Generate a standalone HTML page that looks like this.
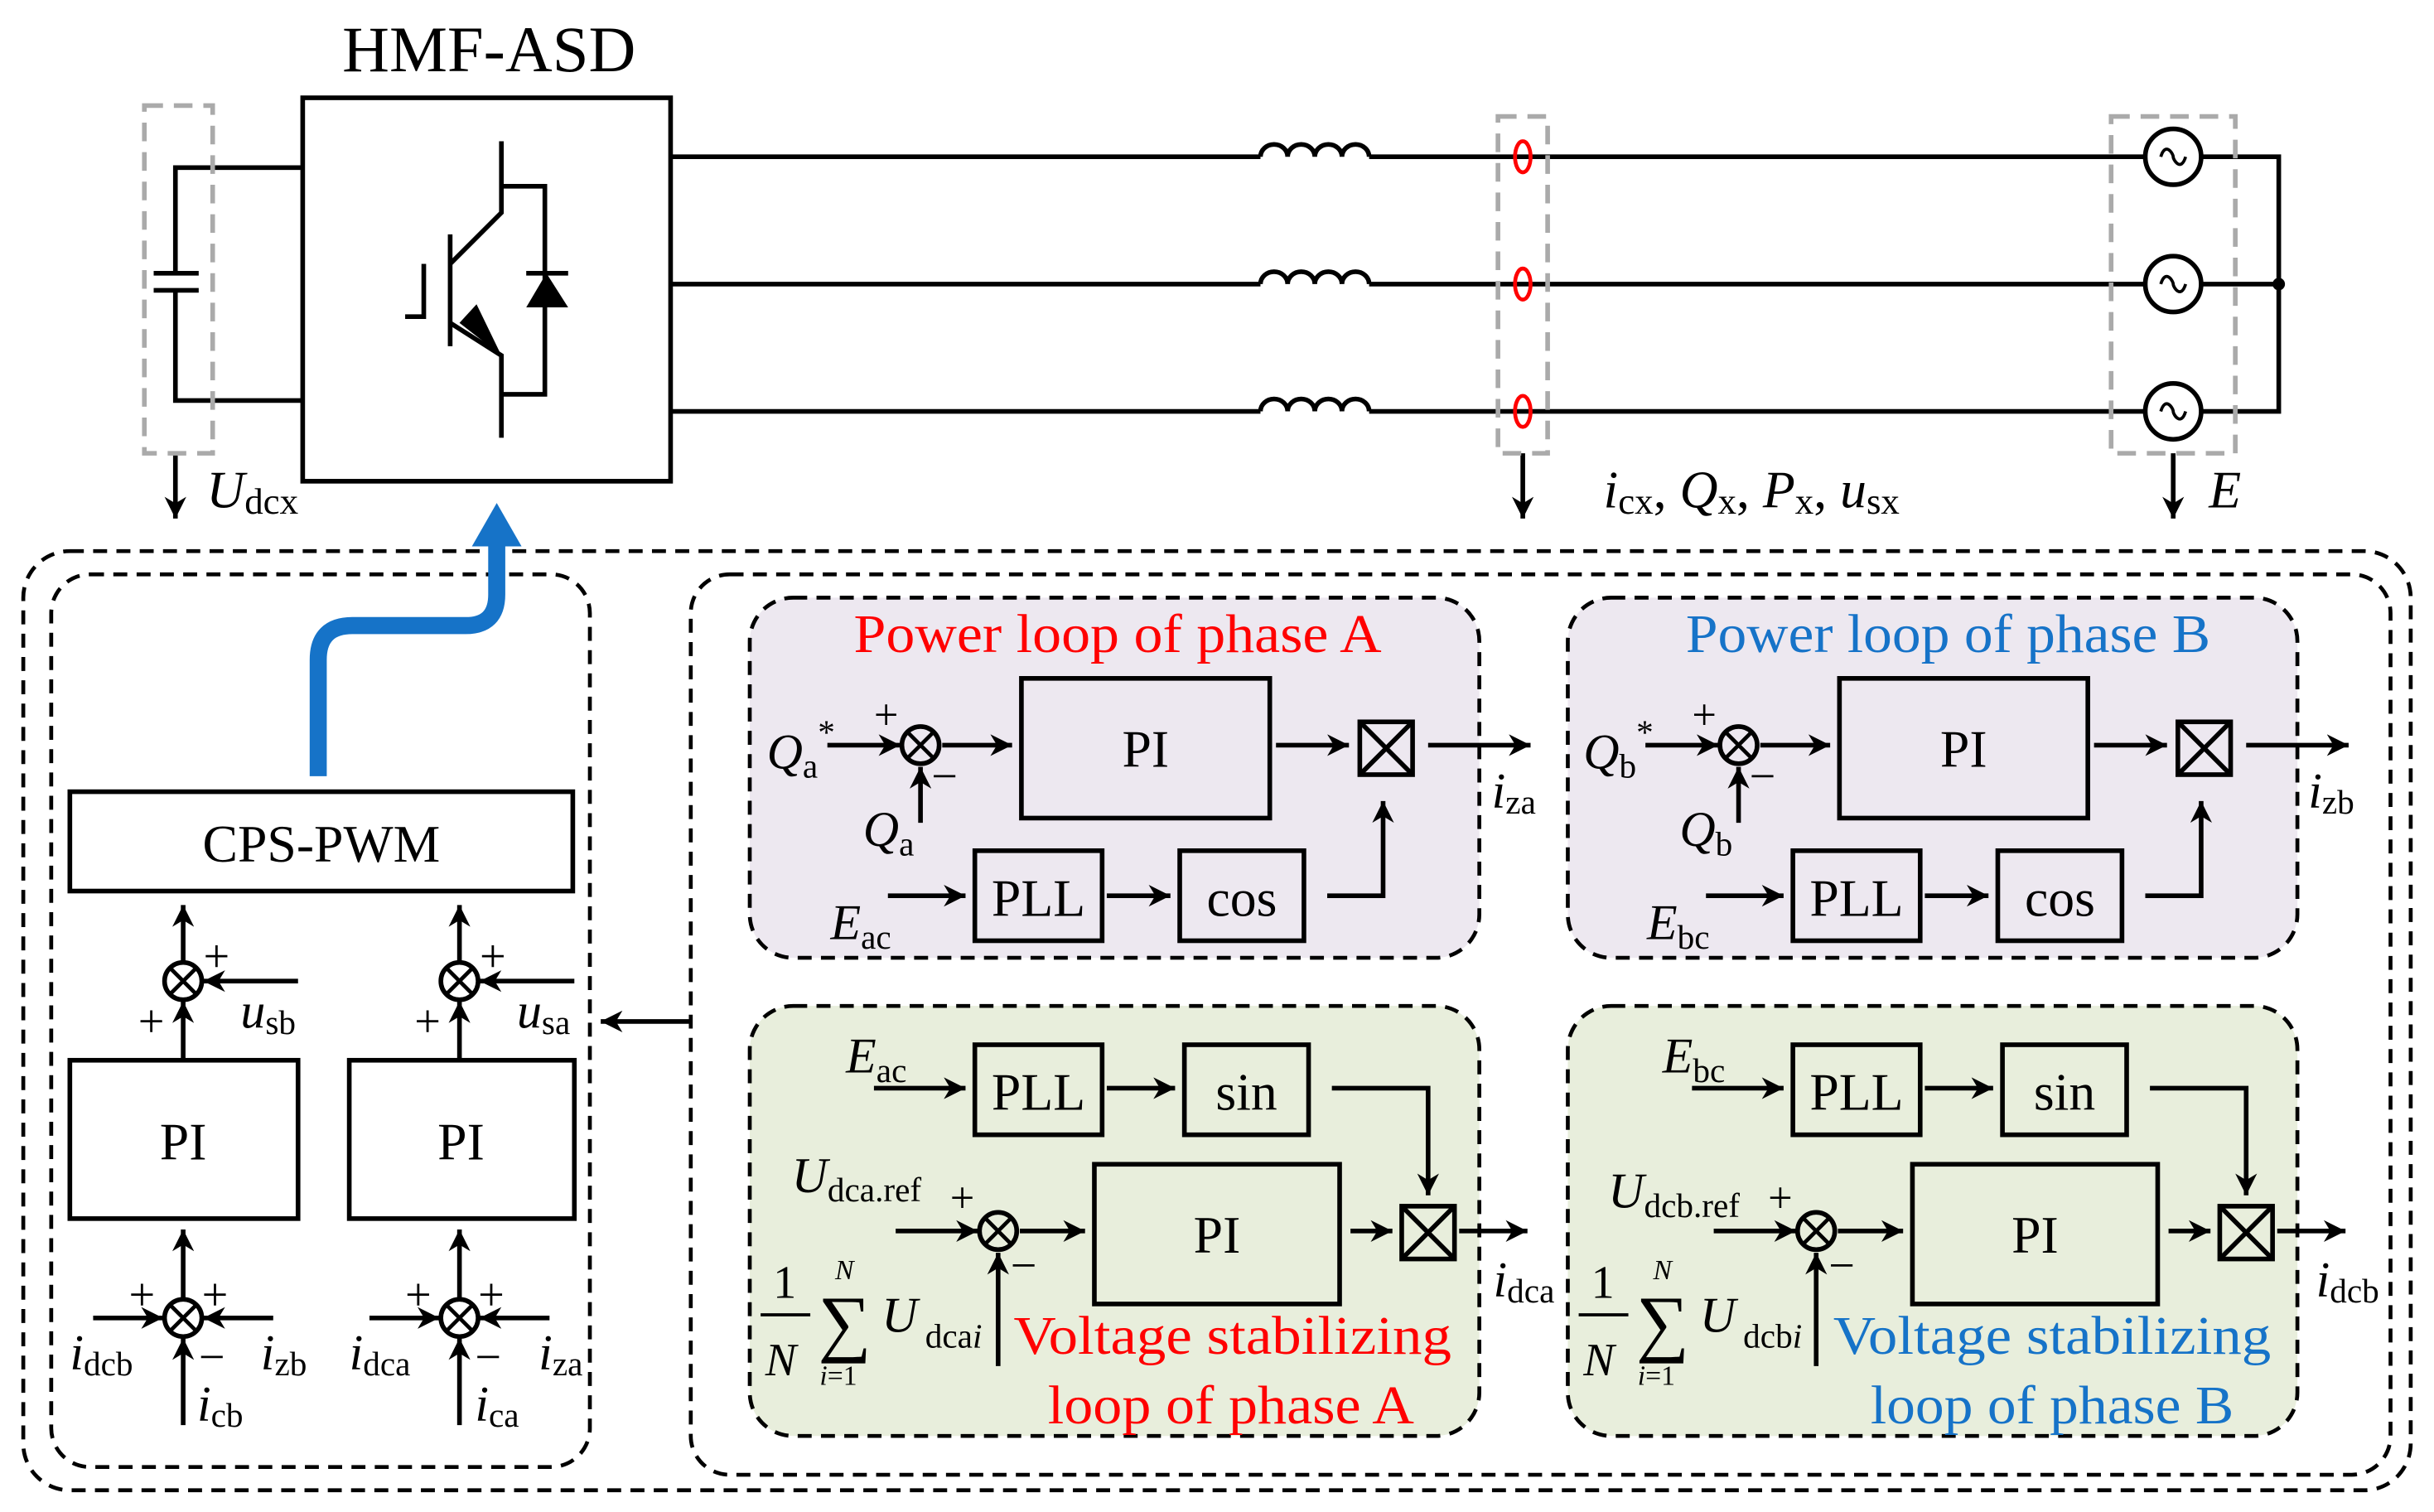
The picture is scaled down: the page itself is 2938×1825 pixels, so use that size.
<!DOCTYPE html>
<html><head><meta charset="utf-8"><style>html,body{margin:0;padding:0;background:#fff}svg{display:block}text{font-family:"Liberation Serif",serif}</style></head><body>
<svg width="2938" height="1825" viewBox="0 0 1568 974" xmlns="http://www.w3.org/2000/svg">
<defs>
<marker id="a" viewBox="0 0 10 10" refX="10" refY="5" markerWidth="16" markerHeight="14" orient="auto" markerUnits="userSpaceOnUse"><path d="M0,0 L10,5 L0,10 L3,5 z" fill="#000"/></marker>
</defs>
<g fill="none" stroke="#000" stroke-width="3">
<rect x="195" y="63" width="237" height="247"/>
<path d="M195,108 H113 V176 M99,176 H128 M99,187 H128 M113,187 V258 H195"/>
<path d="M261,204 H273 V170 M290,151 V223 M290,170 L323,137 V91 M323,120 H351 V254 H323 M290,208 L323,229 V282"/>
<path d="M339,176 H366"/>
<path d="M432,101 H812 M882,101 H1382 M432,183 H812 M882,183 H1382 M432,265 H812 M882,265 H1382"/>
<path d="M1418,101 H1468 V265 H1418 M1418,183 H1468"/>
<path d="M812,101 a8.75,8 0 0 1 17.5,0 a8.75,8 0 0 1 17.5,0 a8.75,8 0 0 1 17.5,0 a8.75,8 0 0 1 17.5,0"/>
<path d="M812,183 a8.75,8 0 0 1 17.5,0 a8.75,8 0 0 1 17.5,0 a8.75,8 0 0 1 17.5,0 a8.75,8 0 0 1 17.5,0"/>
<path d="M812,265 a8.75,8 0 0 1 17.5,0 a8.75,8 0 0 1 17.5,0 a8.75,8 0 0 1 17.5,0 a8.75,8 0 0 1 17.5,0"/>
<circle cx="1400" cy="101" r="18" fill="#fff"/><circle cx="1400" cy="183" r="18" fill="#fff"/><circle cx="1400" cy="265" r="18" fill="#fff"/>
<path d="M1392,101 c3,-10 8,-2 8,0 c0,2 5,10 8,0 M1392,183 c3,-10 8,-2 8,0 c0,2 5,10 8,0 M1392,265 c3,-10 8,-2 8,0 c0,2 5,10 8,0" stroke-width="2"/>
<line x1="113" y1="292" x2="113" y2="334" marker-end="url(#a)"/>
<line x1="981" y1="292" x2="981" y2="334" marker-end="url(#a)"/>
<line x1="1400" y1="292" x2="1400" y2="334" marker-end="url(#a)"/>
</g>
<circle cx="1468" cy="183" r="4"/>
<polygon points="339,198 366,198 352,176"/>
<polygon points="323,229 296,208 307,196"/>
<g fill="none" stroke="red" stroke-width="2.5"><ellipse cx="981" cy="101" rx="5" ry="10"/><ellipse cx="981" cy="183" rx="5" ry="10"/><ellipse cx="981" cy="265" rx="5" ry="10"/></g>
<g fill="none" stroke="#aaa" stroke-width="3" stroke-dasharray="12,7">
<rect x="93" y="68" width="44" height="224"/><rect x="965" y="75" width="32" height="217"/><rect x="1360" y="75" width="80" height="217"/>
</g>
<text x="315" y="46" font-size="42" text-anchor="middle">HMF-ASD</text>
<text x="133" y="327" font-size="34" font-style="italic">U<tspan font-size="24" font-style="normal" dy="4">dcx</tspan></text>
<text x="1033" y="327" font-size="34" font-style="italic">i<tspan font-size="24" font-style="normal" dy="4">cx</tspan><tspan dy="-4" font-style="normal">, </tspan>Q<tspan font-size="24" font-style="normal" dy="4">x</tspan><tspan dy="-4" font-style="normal">, </tspan>P<tspan font-size="24" font-style="normal" dy="4">x</tspan><tspan dy="-4" font-style="normal">, </tspan>u<tspan font-size="24" font-style="normal" dy="4">sx</tspan></text>
<text x="1423" y="327" font-size="34" font-style="italic">E</text>

<g fill="none" stroke="#000" stroke-width="2.5" stroke-dasharray="9,6">
<rect x="15" y="355" width="1538" height="605" rx="30"/>
<rect x="33" y="370" width="347" height="575" rx="25"/>
<rect x="445" y="370" width="1095" height="580" rx="25"/>
</g>
<g stroke="#000" stroke-width="2.5" stroke-dasharray="9,6">
<rect x="483" y="385" width="470" height="232" rx="28" fill="#ede8f0"/>
<rect x="1010" y="385" width="470" height="232" rx="28" fill="#ede8f0"/>
<rect x="483" y="648" width="470" height="277" rx="28" fill="#e8eedc"/>
<rect x="1010" y="648" width="470" height="277" rx="28" fill="#e8eedc"/>
</g>
<path d="M205,500 V425 Q205,403 227,403 H300 Q320,403 320,383 V350" fill="none" stroke="#1673c8" stroke-width="11"/>
<polygon points="304,352 336,352 320,324" fill="#1673c8"/>

<g fill="none" stroke="#000" stroke-width="3">
<rect x="45" y="510" width="324" height="64"/>
<rect x="45" y="683" width="147" height="102"/><rect x="225" y="683" width="145" height="102"/>
<line x1="445" y1="658" x2="387" y2="658" marker-end="url(#a)"/>
<line x1="118" y1="620" x2="118" y2="583" marker-end="url(#a)"/>
<line x1="296" y1="620" x2="296" y2="583" marker-end="url(#a)"/>
<line x1="118" y1="683" x2="118" y2="645" marker-end="url(#a)"/>
<line x1="296" y1="683" x2="296" y2="645" marker-end="url(#a)"/>
<line x1="118" y1="837" x2="118" y2="792" marker-end="url(#a)"/>
<line x1="296" y1="837" x2="296" y2="792" marker-end="url(#a)"/>
<line x1="118" y1="918" x2="118" y2="862" marker-end="url(#a)"/>
<line x1="296" y1="918" x2="296" y2="862" marker-end="url(#a)"/>
<line x1="192" y1="632" x2="131" y2="632" marker-end="url(#a)"/>
<line x1="370" y1="632" x2="309" y2="632" marker-end="url(#a)"/>
<line x1="60" y1="849" x2="105" y2="849" marker-end="url(#a)"/>
<line x1="238" y1="849" x2="283" y2="849" marker-end="url(#a)"/>
<line x1="176" y1="849" x2="131" y2="849" marker-end="url(#a)"/>
<line x1="354" y1="849" x2="309" y2="849" marker-end="url(#a)"/>
<circle cx="118" cy="632" r="12"/><circle cx="296" cy="632" r="12"/><circle cx="118" cy="849" r="12"/><circle cx="296" cy="849" r="12"/>
<path d="M110,624 l16,16 M126,624 l-16,16 M288,624 l16,16 M304,624 l-16,16 M110,841 l16,16 M126,841 l-16,16 M288,841 l16,16 M304,841 l-16,16" stroke-width="2.5"/>
</g>
<g font-size="34" text-anchor="middle">
<text x="207" y="555">CPS-PWM</text><text x="118" y="747">PI</text><text x="297" y="747">PI</text>
</g>
<g font-size="30"><text x="131" y="626">+</text><text x="309" y="626">+</text><text x="89" y="668">+</text><text x="267" y="668">+</text>
<text x="83" y="844">+</text><text x="130" y="844">+</text><text x="261" y="844">+</text><text x="308" y="844">+</text>
<text x="128" y="884">−</text><text x="306" y="884">−</text></g>
<g font-size="32" font-style="italic">
<text x="155" y="662">u<tspan font-size="22" font-style="normal" dy="4">sb</tspan></text>
<text x="333" y="662">u<tspan font-size="22" font-style="normal" dy="4">sa</tspan></text>
<text x="45" y="882">i<tspan font-size="22" font-style="normal" dy="4">dcb</tspan></text>
<text x="168" y="882">i<tspan font-size="22" font-style="normal" dy="4">zb</tspan></text>
<text x="225" y="882">i<tspan font-size="22" font-style="normal" dy="4">dca</tspan></text>
<text x="347" y="882">i<tspan font-size="22" font-style="normal" dy="4">za</tspan></text>
<text x="127" y="915">i<tspan font-size="22" font-style="normal" dy="4">cb</tspan></text>
<text x="306" y="915">i<tspan font-size="22" font-style="normal" dy="4">ca</tspan></text>
</g>

<g id="pa">
<g fill="none" stroke="#000" stroke-width="3">
<rect x="658" y="437" width="160" height="90"/>
<rect x="876" y="465" width="34" height="34"/><path d="M876,465 L910,499 M910,465 L876,499"/>
<rect x="628" y="548" width="82" height="58"/><rect x="760" y="548" width="80" height="58"/>
<circle cx="593" cy="480" r="12"/><path d="M585,472 l16,16 M601,472 l-16,16" stroke-width="2.5"/>
<line x1="533" y1="480" x2="580" y2="480" marker-end="url(#a)"/>
<line x1="607" y1="480" x2="652" y2="480" marker-end="url(#a)"/>
<line x1="822" y1="480" x2="869" y2="480" marker-end="url(#a)"/>
<line x1="593" y1="530" x2="593" y2="494" marker-end="url(#a)"/>
<line x1="572" y1="577" x2="622" y2="577" marker-end="url(#a)"/>
<line x1="713" y1="577" x2="754" y2="577" marker-end="url(#a)"/>
<path d="M855,577 H891 V516" marker-end="url(#a)"/>
<line x1="920" y1="480" x2="986" y2="480" marker-end="url(#a)"/>
</g>
<g font-size="34" text-anchor="middle"><text x="738" y="494">PI</text><text x="669" y="590">PLL</text><text x="800" y="590">cos</text></g>
<text x="563" y="470" font-size="28">+</text><text x="600" y="510" font-size="30">−</text>
</g>
<use href="#pa" x="527"/>
<text x="720" y="420" font-size="35" fill="red" text-anchor="middle" textLength="340" lengthAdjust="spacingAndGlyphs">Power loop of phase A</text>
<text x="1255" y="420" font-size="35" fill="#1673c8" text-anchor="middle" textLength="338" lengthAdjust="spacingAndGlyphs">Power loop of phase B</text>
<g font-size="32" font-style="italic">
<text x="494" y="495">Q<tspan font-size="22" font-style="normal" dy="6">a</tspan><tspan font-size="22" font-style="normal" dy="-22">*</tspan></text>
<text x="556" y="545">Q<tspan font-size="22" font-style="normal" dy="6">a</tspan></text>
<text x="535" y="605">E<tspan font-size="22" font-style="normal" dy="6">ac</tspan></text>
<text x="961" y="520">i<tspan font-size="22" font-style="normal" dy="4">za</tspan></text>
<text x="1020" y="495">Q<tspan font-size="22" font-style="normal" dy="6">b</tspan><tspan font-size="22" font-style="normal" dy="-22">*</tspan></text>
<text x="1082" y="545">Q<tspan font-size="22" font-style="normal" dy="6">b</tspan></text>
<text x="1061" y="605">E<tspan font-size="22" font-style="normal" dy="6">bc</tspan></text>
<text x="1487" y="520">i<tspan font-size="22" font-style="normal" dy="4">zb</tspan></text>
</g>

<g id="va">
<g fill="none" stroke="#000" stroke-width="3">
<rect x="628" y="673" width="82" height="58"/><rect x="763" y="673" width="80" height="58"/>
<rect x="705" y="750" width="158" height="90"/>
<rect x="903" y="777" width="34" height="34"/><path d="M903,777 L937,811 M937,777 L903,811"/>
<circle cx="643" cy="793" r="12"/><path d="M635,785 l16,16 M651,785 l-16,16" stroke-width="2.5"/>
<line x1="563" y1="701" x2="622" y2="701" marker-end="url(#a)"/>
<line x1="713" y1="701" x2="757" y2="701" marker-end="url(#a)"/>
<path d="M858,701 H920 V770" marker-end="url(#a)"/>
<line x1="577" y1="793" x2="630" y2="793" marker-end="url(#a)"/>
<line x1="657" y1="793" x2="699" y2="793" marker-end="url(#a)"/>
<line x1="870" y1="793" x2="897" y2="793" marker-end="url(#a)"/>
<line x1="643" y1="880" x2="643" y2="807" marker-end="url(#a)"/>
<line x1="940" y1="793" x2="984" y2="793" marker-end="url(#a)"/>
</g>
<g font-size="34" text-anchor="middle"><text x="669" y="715">PLL</text><text x="803" y="715">sin</text><text x="784" y="807">PI</text></g>
<text x="612" y="781" font-size="28">+</text><text x="651" y="825" font-size="30">−</text>
</g>
<use href="#va" x="527"/>
<g font-size="32" font-style="italic">
<text x="545" y="691">E<tspan font-size="22" font-style="normal" dy="6">ac</tspan></text>
<text x="510" y="768">U<tspan font-size="22" font-style="normal" dy="6">dca.ref</tspan></text>
<text x="962" y="835">i<tspan font-size="22" font-style="normal" dy="4">dca</tspan></text>
<text x="1071" y="691">E<tspan font-size="22" font-style="normal" dy="6">bc</tspan></text>
<text x="1036" y="778">U<tspan font-size="22" font-style="normal" dy="6">dcb.ref</tspan></text>
<text x="1492" y="835">i<tspan font-size="22" font-style="normal" dy="4">dcb</tspan></text>
</g>
<g id="sum">
<text x="498" y="836" font-size="30">1</text><line x1="490" y1="847" x2="522" y2="847" stroke="#000" stroke-width="2"/>
<text x="493" y="886" font-size="30" font-style="italic">N</text>
<text x="527" y="868" font-size="48">∑</text>
<text x="538" y="824" font-size="18" font-style="italic">N</text>
<text x="528" y="892" font-size="18"><tspan font-style="italic">i</tspan>=1</text>
<text x="568" y="858" font-size="32" font-style="italic">U</text>
</g>
<text x="596" y="868" font-size="22">dca<tspan font-style="italic">i</tspan></text>
<use href="#sum" x="527"/>
<text x="1123" y="868" font-size="22">dcb<tspan font-style="italic">i</tspan></text>
<text x="794" y="872" font-size="35" fill="red" text-anchor="middle" textLength="282" lengthAdjust="spacingAndGlyphs">Voltage stabilizing</text>
<text x="793" y="917" font-size="35" fill="red" text-anchor="middle" textLength="236" lengthAdjust="spacingAndGlyphs">loop of phase A</text>
<text x="1322" y="872" font-size="35" fill="#1673c8" text-anchor="middle" textLength="282" lengthAdjust="spacingAndGlyphs">Voltage stabilizing</text>
<text x="1322" y="917" font-size="35" fill="#1673c8" text-anchor="middle" textLength="234" lengthAdjust="spacingAndGlyphs">loop of phase B</text>
</svg>
</body></html>
